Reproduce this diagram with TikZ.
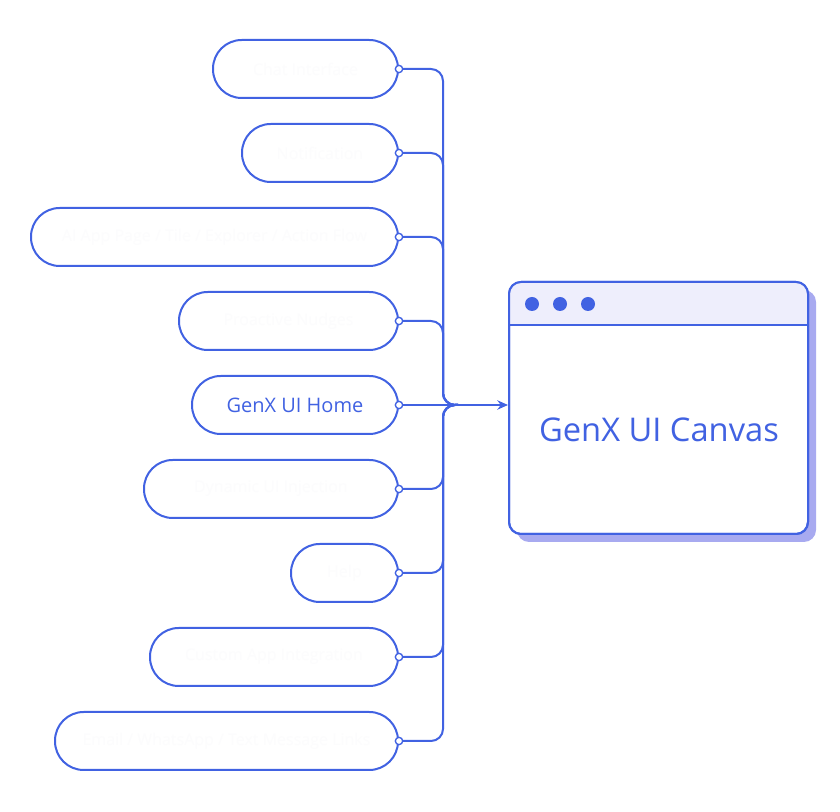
\documentclass[tikz,border=0pt]{standalone}
\usepackage{fontspec}
\setmainfont{Open Sans}
\usetikzlibrary{arrows.meta}
\definecolor{genblue}{RGB}{65,98,226}
\definecolor{headbg}{RGB}{238,238,252}
\definecolor{canvasshadow}{RGB}{168,170,240}
\definecolor{ghost}{RGB}{252,252,253}
\tikzset{
  pill/.style={draw=genblue, fill=white, line width=1.5pt, rounded corners=21.5pt,
    minimum height=43.5pt, anchor=east, inner sep=0pt,
    font=\fontsize{12}{14}\selectfont, text=ghost},
  pin/.style={circle, draw=genblue, fill=white, line width=1pt, minimum size=5.5pt, inner sep=0pt},
  dot/.style={circle, fill=genblue, minimum size=10.5pt, inner sep=0pt},
  link/.style={draw=genblue, line width=1.5pt, rounded corners=9pt},
}
\begin{document}
\begin{tikzpicture}[x=0.75pt, y=-0.75pt]
    \useasboundingbox (0,0) rectangle (840,812);
    % Canvas window
    \fill[canvasshadow, rounded corners=9pt] (517,290) rectangle (816,542);
    \node[draw=genblue, fill=white, line width=1.5pt, rounded corners=9pt,
      minimum width=224.25pt, minimum height=189pt, inner sep=0pt] (canvas) at (658.5,408) {};
    \begin{scope}
        \clip[rounded corners=9pt] (509,282) rectangle (808,534);
        \fill[headbg] (509,282) rectangle (808,325);
    \end{scope}
    \draw[genblue, line width=1.5pt, rounded corners=9pt] (509,282) rectangle (808,534);
    \draw[genblue, line width=1.5pt] (509,325) -- (808,325);
    \node[dot] (dotA) at (532,304) {};
    \node[dot] (dotB) at (560,304) {};
    \node[dot] (dotC) at (588,304) {};
    \node[text=genblue, font=\fontsize{24.5}{28}\selectfont] (title) at (659,430) {GenX UI Canvas};
    % Left-hand pills
    \node[pill, minimum width=138.75pt] (chat) at (399,69) {Chat Interface};
    \node[pill, minimum width=117pt] (notify) at (399,153) {Notification};
    \node[pill, minimum width=275.25pt] (apppage) at (399,237) {AI App Page / Tile / Explorer / Action Flow};
    \node[pill, minimum width=164.25pt] (nudges) at (399,321) {Proactive Nudges};
    \node[pill, minimum width=154.5pt, text=genblue, font=\fontsize{15}{17}\selectfont] (home) at (399,405) {GenX UI Home};
    \node[pill, minimum width=190.5pt] (inject) at (399,489) {Dynamic UI Injection};
    \node[pill, minimum width=80.25pt] (help) at (399,573) {Help};
    \node[pill, minimum width=186pt] (custom) at (399,657) {Custom App Integration};
    \node[pill, minimum width=257.25pt] (links) at (399,741) {Email / WhatsApp / Text Message Links};
    % Connectors
    \draw[link] (chat.east) -| (443,405) -- (458,405);
    \draw[link] (notify.east) -| (443,405) -- (458,405);
    \draw[link] (apppage.east) -| (443,405) -- (458,405);
    \draw[link] (nudges.east) -| (443,405) -- (458,405);
    \draw[link] (inject.east) -| (443,405) -- (458,405);
    \draw[link] (help.east) -| (443,405) -- (458,405);
    \draw[link] (custom.east) -| (443,405) -- (458,405);
    \draw[link] (links.east) -| (443,405) -- (458,405);
    \draw[link, -{Stealth[length=8pt, width=7pt]}] (home.east) -- (home.east -| canvas.west);
    % Pins
    \node[pin] (chatpin) at (chat.east) {};
    \node[pin] (notifypin) at (notify.east) {};
    \node[pin] (apppagepin) at (apppage.east) {};
    \node[pin] (nudgespin) at (nudges.east) {};
    \node[pin] (homepin) at (home.east) {};
    \node[pin] (injectpin) at (inject.east) {};
    \node[pin] (helppin) at (help.east) {};
    \node[pin] (custompin) at (custom.east) {};
    \node[pin] (linkspin) at (links.east) {};
\end{tikzpicture}
\end{document}
